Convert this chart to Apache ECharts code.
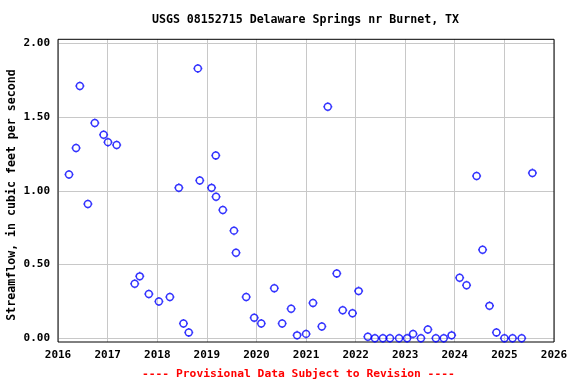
<!DOCTYPE html>
<html><head><meta charset="utf-8">
<script src="https://cdn.jsdelivr.net/npm/echarts@6/dist/echarts.min.js"></script>
<style>html,body{margin:0;padding:0;background:#fff}#c{width:576px;height:384px}</style>
</head><body><div id="c"></div>
<script>
const titleText = 'USGS 08152715 Delaware Springs nr Burnet, TX';
const footerText = '---- Provisional Data Subject to Revision ----';
const yAxisTitle = 'Streamflow, in cubic feet per second';
const dates = ['2016-03-22','2016-05-13','2016-06-10','2016-08-08','2016-09-28','2016-12-02',
 '2017-01-03','2017-03-08','2017-07-19','2017-08-25','2017-10-31',
 '2018-01-13','2018-04-04','2018-06-09','2018-07-13','2018-08-21','2018-10-27','2018-11-10',
 '2019-02-05','2019-03-08','2019-03-10','2019-04-29','2019-07-20','2019-08-04','2019-10-18','2019-12-16',
 '2020-02-06','2020-05-12','2020-07-09','2020-09-13','2020-10-27',
 '2021-01-01','2021-02-21','2021-04-27','2021-06-10','2021-08-15','2021-09-28','2021-12-09',
 '2022-01-23','2022-04-01','2022-05-23','2022-07-21','2022-09-11','2022-11-17',
 '2023-01-15','2023-02-28','2023-04-27','2023-06-17','2023-08-15','2023-10-12','2023-12-09',
 '2024-02-06','2024-03-28','2024-06-10','2024-07-24','2024-09-13','2024-11-03',
 '2025-01-01','2025-03-02','2025-05-08','2025-07-26'];
const flows = [1.11,1.29,1.71,0.91,1.46,1.38,
 1.33,1.31,0.37,0.42,0.30,
 0.25,0.28,1.02,0.10,0.04,1.83,1.07,
 1.02,1.24,0.96,0.87,0.73,0.58,0.28,0.14,
 0.10,0.34,0.10,0.20,0.02,
 0.03,0.24,0.08,1.57,0.44,0.19,0.17,
 0.32,0.01,0,0,0,0,
 0,0.03,0,0.06,0,0,0.02,
 0.41,0.36,1.10,0.60,0.22,0.04,
 0,0,0,1.12];
const xMin = '2016-01-01', xMax = '2026-01-01';
const yTicks = [0, 0.5, 1.0, 1.5, 2.0];

const FONT = '"DejaVu Sans Mono", monospace';
const chart = echarts.init(document.getElementById('c'), null, {renderer: 'canvas'});
const YEAR = 365 * 24 * 3600 * 1000;
const marker = 'path://M0,5A5,5 0 1,1 10,5A5,5 0 1,1 0,5Z M5,0L5,-1.5 M5,10L5,11.5 M0,5L-1.5,5 M10,5L11.5,5';
chart.setOption({
  animation: false,
  backgroundColor: '#fff',
  grid: [
    {left: 58, right: 22, top: 43.3, bottom: 45.7, show: false},
    {left: 58, right: 22, top: 39.3, bottom: 42, show: true, borderColor: '#000', borderWidth: 1, backgroundColor: 'transparent', z: 5}
  ],
  xAxis: [
    {gridIndex: 1, type: 'time', min: xMin, max: xMax, minInterval: YEAR, maxInterval: YEAR + 2*24*3600*1000,
     axisLine: {show: false}, axisTick: {show: false},
     splitLine: {show: true, lineStyle: {color: '#c8c8c8', width: 1}},
     axisLabel: {formatter: '{yyyy}', showMinLabel: true, showMaxLabel: true, margin: 8,
       fontFamily: FONT, fontWeight: 'bold', fontSize: 11, color: '#000', hideOverlap: false}},
    {gridIndex: 0, type: 'time', min: xMin, max: xMax, show: false}
  ],
  yAxis: [
    {gridIndex: 0, type: 'value', min: yTicks[0], max: yTicks[yTicks.length-1], interval: 0.5,
     axisLine: {show: false}, axisTick: {show: false},
     splitLine: {show: true, lineStyle: {color: '#c8c8c8', width: 1}},
     axisLabel: {formatter: v => v.toFixed(2), margin: 8, fontFamily: FONT, fontWeight: 'bold', fontSize: 11, color: '#000'}},
    {gridIndex: 1, type: 'value', min: -0.025, max: 2.027, show: false}
  ],
  graphic: [
    {type: 'text', x: 305.5, y: 20, z: 10, style: {text: titleText, textAlign: 'center', textVerticalAlign: 'middle',
      font: 'bold 11.6px ' + FONT, fill: '#000'}},
    {type: 'text', x: 298.4, y: 374.5, z: 10, style: {text: footerText, textAlign: 'center', textVerticalAlign: 'middle',
      font: 'bold 11.3px ' + FONT, fill: '#ff0000'}},
    {type: 'text', x: 11.5, y: 195, rotation: Math.PI/2, z: 10, style: {text: yAxisTitle, textAlign: 'center', textVerticalAlign: 'middle',
      font: 'bold 11.6px ' + FONT, fill: '#000'}}
  ],
  series: [{
    type: 'scatter', xAxisIndex: 1, yAxisIndex: 0, clip: false, z: 6,
    symbol: marker, symbolSize: 9,
    itemStyle: {color: 'rgba(0,0,0,0)', borderColor: '#0000ff', borderWidth: 1.5},
    data: dates.map((d, i) => [d, flows[i]])
  }]
});
</script></body></html>
